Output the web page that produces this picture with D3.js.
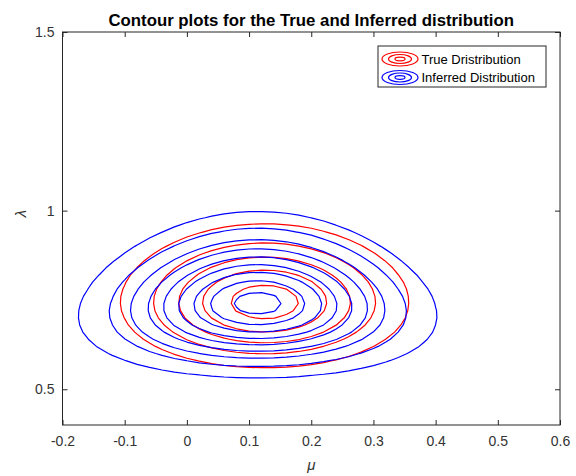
<!DOCTYPE html>
<html>
<head>
<meta charset="utf-8">
<script src="https://cdn.jsdelivr.net/npm/d3@7"></script>
<style>
  body { margin: 0; background: #fff; }
  svg { display: block; }
  text { font-family: "Liberation Sans", Arial, Helvetica, sans-serif; }
</style>
</head>
<body>
<svg id="chart" width="576" height="476"></svg>
<script>
// Axis ranges and tick values
const muDomain = [-0.2, 0.6];
const lambdaDomain = [0.4, 1.5];
const muTicks = [-0.2, -0.1, 0, 0.1, 0.2, 0.3, 0.4, 0.5, 0.6];
const lambdaTicks = [0.5, 1, 1.5];

// Evaluation grid spacing in (mu, lambda)
const gridStep = [0.02, 0.02];

// True distribution: Gaussian in mu (mean, sd) times Gamma in lambda (shape, rate)
const trueMu = [0.125, 0.1254];
const trueLambda = [46.7, 62.8];
// contour levels, relative to the peak density
const trueLevels = [0.182, 0.364, 0.546, 0.728, 0.91];

// Inferred distribution: Normal-Gamma, mu | lambda ~ N(mean, 1/(kappa*lambda))
const inferredMu = [0.114, 74.6];     // mean, kappa
const inferredLambda = [45.7, 61.7];  // shape, rate
const inferredLevels = [0.107, 0.213, 0.32, 0.427, 0.533, 0.64, 0.747, 0.853, 0.96];

const seriesNames = ["True Dristribution", "Inferred Distribution"];
const seriesColors = ["#ff0000", "#0000ff"];

// ---- layout
const plot = { left: 62.5, right: 560, top: 32, bottom: 425 };
const svg = d3.select("#chart");
const x = d3.scaleLinear().domain(muDomain).range([plot.left, plot.right]);
const y = d3.scaleLinear().domain(lambdaDomain).range([plot.bottom, plot.top]);

// ---- density grids
const nx = Math.round((muDomain[1] - muDomain[0]) / gridStep[0]) + 1;
const ny = Math.round((lambdaDomain[1] - lambdaDomain[0]) / gridStep[1]) + 1;
const muAt = i => muDomain[0] + i * gridStep[0];
const lamAt = j => lambdaDomain[0] + j * gridStep[1];

function trueLogDensity(mu, lam) {
  const [m, s] = trueMu, [a, b] = trueLambda;
  const l0 = a / b;
  return -((mu - m) ** 2) / (2 * s * s) + a * Math.log(lam / l0) - b * (lam - l0);
}
function inferredLogDensity(mu, lam) {
  const [m, k] = inferredMu, [a, b] = inferredLambda;
  const l0 = a / b;
  return a * Math.log(lam / l0) - b * (lam - l0) - k * lam * (mu - m) ** 2 / 2;
}
// density on the grid, scaled so the analytic peak equals 1
function grid(logDensity) {
  const v = new Array(nx * ny);
  for (let j = 0; j < ny; j++)
    for (let i = 0; i < nx; i++)
      v[j * nx + i] = Math.exp(logDensity(muAt(i), lamAt(j)));
  return v;
}

// grid index space -> screen
const toScreen = d3.geoTransform({
  point(px, py) {
    this.stream.point(x(muDomain[0] + (px - 0.5) * gridStep[0]),
                      y(lambdaDomain[0] + (py - 0.5) * gridStep[1]));
  }
});
const path = d3.geoPath(toScreen);

svg.append("clipPath").attr("id", "plotClip")
  .append("rect")
  .attr("x", plot.left).attr("y", plot.top)
  .attr("width", plot.right - plot.left).attr("height", plot.bottom - plot.top);

const layer = svg.append("g").attr("clip-path", "url(#plotClip)");

function drawContours(values, levels, color) {
  const sets = d3.contours().size([nx, ny]).thresholds(levels)(values);
  layer.append("g").selectAll("path")
    .data(sets)
    .join("path")
    .attr("d", path)
    .attr("fill", "none")
    .attr("stroke", color)
    .attr("stroke-width", 1.2)
    .attr("stroke-linejoin", "round");
}

drawContours(grid(trueLogDensity), trueLevels, seriesColors[0]);
drawContours(grid(inferredLogDensity), inferredLevels, seriesColors[1]);

// ---- axes box and ticks
const axisColor = "#262626";
const fmt = d => String(d);

const xAxis = svg.append("g")
  .attr("transform", `translate(0,${plot.bottom})`)
  .call(d3.axisBottom(x).tickValues(muTicks).tickFormat(fmt).tickSizeInner(-5).tickSizeOuter(0).tickPadding(11.5));
const xAxisTop = svg.append("g")
  .attr("transform", `translate(0,${plot.top})`)
  .call(d3.axisTop(x).tickValues(muTicks).tickFormat("").tickSizeInner(-5).tickSizeOuter(0));
const yAxis = svg.append("g")
  .attr("transform", `translate(${plot.left},0)`)
  .call(d3.axisLeft(y).tickValues(lambdaTicks).tickFormat(fmt).tickSizeInner(-5).tickSizeOuter(0).tickPadding(8));
const yAxisRight = svg.append("g")
  .attr("transform", `translate(${plot.right},0)`)
  .call(d3.axisRight(y).tickValues(lambdaTicks).tickFormat("").tickSizeInner(-5).tickSizeOuter(0));

[xAxis, xAxisTop, yAxis, yAxisRight].forEach(g => {
  g.select(".domain").remove();
  g.selectAll(".tick line").attr("stroke", axisColor);
  g.selectAll("text").attr("fill", "#333").style("font-size", "14px")
    .style("font-family", '"Liberation Sans", Arial, sans-serif');
});

svg.append("rect")
  .attr("x", plot.left).attr("y", plot.top)
  .attr("width", plot.right - plot.left).attr("height", plot.bottom - plot.top)
  .attr("fill", "none").attr("stroke", axisColor).attr("stroke-width", 1);

// ---- labels
svg.append("text")
  .attr("x", (plot.left + plot.right) / 2).attr("y", 26)
  .attr("text-anchor", "middle")
  .style("font-size", "16.8px").style("font-weight", "bold")
  .attr("fill", "#000")
  .text("Contour plots for the True and Inferred distribution");

svg.append("text")
  .attr("x", (plot.left + plot.right) / 2).attr("y", 470)
  .attr("text-anchor", "middle")
  .style("font-size", "15px").style("font-style", "italic")
  .attr("fill", "#333")
  .text("μ");

svg.append("text")
  .attr("transform", `translate(26,${(plot.top + plot.bottom) / 2 - 15}) rotate(-90)`)
  .attr("text-anchor", "middle")
  .style("font-size", "15px").style("font-style", "italic")
  .attr("fill", "#333")
  .text("λ");

// ---- legend
const legend = svg.append("g").attr("transform", "translate(378,46)");
legend.append("rect")
  .attr("width", 168).attr("height", 41)
  .attr("fill", "#fff").attr("stroke", axisColor).attr("stroke-width", 1);

const rowY = [13, 31.5];
seriesNames.forEach((name, i) => {
  const g = legend.append("g").attr("transform", `translate(22,${rowY[i]})`);
  [[18, 7], [11.5, 4.5], [5, 1.8]].forEach(([rx, ry]) => {
    g.append("ellipse").attr("rx", rx).attr("ry", ry)
      .attr("fill", "none").attr("stroke", seriesColors[i]).attr("stroke-width", 1.2);
  });
  legend.append("text")
    .attr("x", 43.5).attr("y", rowY[i]).attr("dy", "0.35em")
    .style("font-size", "13px").attr("fill", "#000")
    .text(name);
});
</script>
</body>
</html>
